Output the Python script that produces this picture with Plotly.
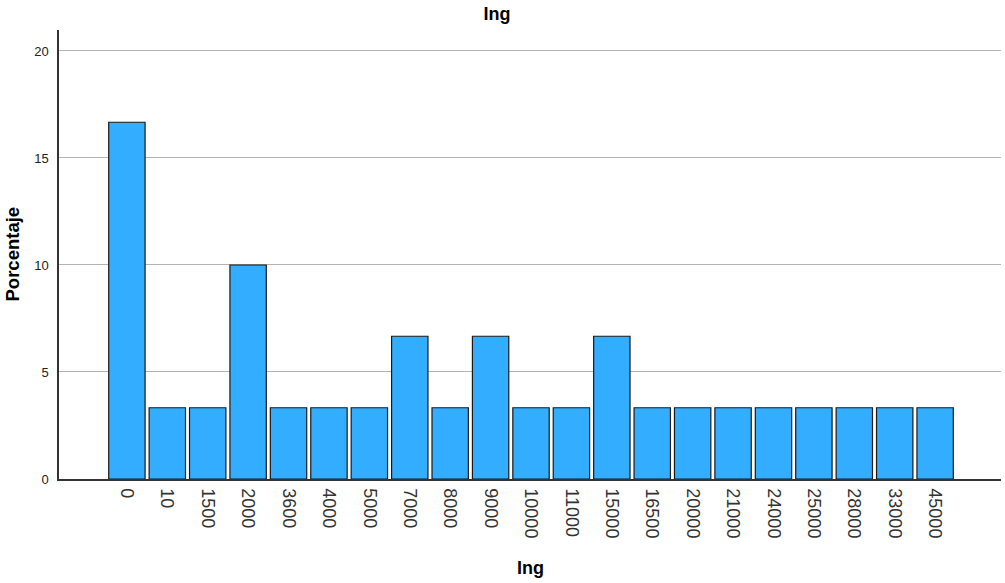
import plotly.graph_objects as go

categories = ["0", "10", "1500", "2000", "3600", "4000", "5000", "7000", "8000", "9000",
              "10000", "11000", "15000", "16500", "20000", "21000", "24000", "25000",
              "28000", "33000", "45000"]
percent = [16.67, 3.33, 3.33, 10.0, 3.33, 3.33, 3.33, 6.67, 3.33, 6.67,
           3.33, 3.33, 6.67, 3.33, 3.33, 3.33, 3.33, 3.33, 3.33, 3.33, 3.33]
y_ticks = [0, 5, 10, 15, 20]

fig = go.Figure(go.Bar(
    x=categories, y=percent,
    marker=dict(color="#33adff", line=dict(color="#1a1a1a", width=1.2)),
    width=0.9,
))

fig.update_layout(
    width=1005, height=583,
    margin=dict(l=59, r=4, t=30, b=104, autoexpand=False),
    paper_bgcolor="white", plot_bgcolor="white",
    font=dict(family="Liberation Sans, Arial, sans-serif", color="#222222"),
    title=dict(text="<b>Ing</b>", x=0.4945, xanchor="center", xref="container",
               y=1 - 14 / 583, yanchor="middle", yref="container",
               font=dict(size=18, color="#000000")),
    showlegend=False,
    bargap=0.1,
    annotations=[
        dict(text="<b>Porcentaje</b>", xref="paper", yref="paper", x=0, y=0.5,
             xshift=-47, xanchor="center", yanchor="middle", textangle=-90,
             showarrow=False, font=dict(size=18.5, color="#000000")),
        dict(text="<b>Ing</b>", xref="paper", yref="paper", x=0.501, y=0,
             yshift=-89, xanchor="center", yanchor="middle",
             showarrow=False, font=dict(size=18, color="#000000")),
    ],
)
fig.update_xaxes(
    type="category", range=[-1.68, 21.63], automargin=False,
    tickangle=90, tickfont=dict(size=18, color="#333333"),
    showline=True, linecolor="#333333", linewidth=1.5,
    showgrid=False, ticks="", ticklabelstandoff=4,
)
fig.update_yaxes(
    range=[0, 20.98], tickvals=y_ticks, automargin=False,
    tickfont=dict(size=13, color="#222222"),
    showline=True, linecolor="#333333", linewidth=1.5,
    showgrid=True, gridcolor="#b4b4b4", gridwidth=1,
    zeroline=False, ticks="", ticklabelstandoff=6,
)

fig.write_html("out.html", config={"displayModeBar": False},
               post_script="document.body.style.margin='0';document.body.style.padding='0';")
